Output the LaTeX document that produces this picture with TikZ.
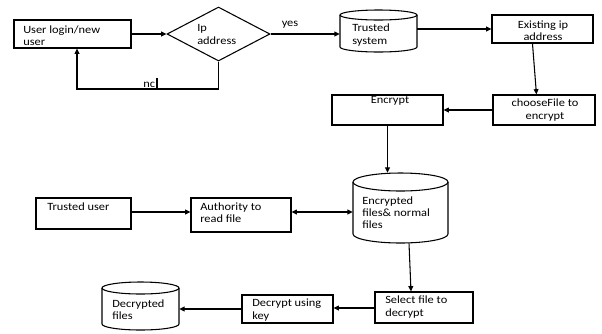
\documentclass[tikz,border=0pt]{standalone}
\usepackage{fontspec}
\setmainfont{Carlito}[FakeStretch=1.12]
\usetikzlibrary{shapes.geometric,arrows.meta,calc}
\tikzset{
  box/.style={draw, line width=0.8pt, inner sep=0pt},
  hold/.style={inner sep=0pt},
  txt/.style={inner sep=0pt, align=left, font=\fontsize{8.3}{9.2}\selectfont},
  ctxt/.style={inner sep=0pt, align=center, font=\fontsize{8.3}{9.2}\selectfont},
  arr/.style={line width=0.8pt, -{Triangle[length=4pt,width=3.6pt]}},
  darr/.style={line width=0.8pt, {Triangle[length=4pt,width=3.6pt]}-{Triangle[length=4pt,width=3.6pt]}},
  cylline/.style={line width=0.8pt}
}
\newcommand\drawcyl[5]{%
  \pgfmathsetmacro\cylR{(#3-#1)/2*0.75}%
  \pgfmathsetmacro\cylr{#5*0.75}%
  \draw[cylline] (#1,#2+#5) -- (#1,#4-#5) arc[start angle=180,end angle=360,x radius=\cylR pt,y radius=\cylr pt] -- (#3,#2+#5);
  \draw[cylline] ({(#1+#3)/2},#2+#5) ellipse[x radius=\cylR pt, y radius=\cylr pt];
}
\begin{document}
\begin{tikzpicture}[x=0.75pt,y=-0.75pt]
\useasboundingbox (0,0) rectangle (602,333);
% boxes
\node[box, minimum width=87.75pt, minimum height=21pt] (u) at (72.5,34) {};
\node[box, shape=diamond, minimum width=77.25pt, minimum height=40.5pt] (ip) at (218.5,34) {};
\node[hold, minimum width=57.75pt, minimum height=31.5pt] (ts) at (378.5,31) {};
\drawcyl{340}{10}{417}{52}{5}
\node[box, minimum width=75.75pt, minimum height=21pt] (ex) at (542.5,29) {};
\node[box, minimum width=76.5pt, minimum height=22.5pt] (ch) at (544,110) {};
\node[box, minimum width=83.25pt, minimum height=22.5pt] (enc) at (387.5,110) {};
\node[hold, minimum width=71.25pt, minimum height=52.5pt] (ef) at (400.5,208) {};
\drawcyl{353}{173}{448}{243}{9}
\node[box, minimum width=71.25pt, minimum height=23.25pt] (tu) at (83.5,213.5) {};
\node[box, minimum width=75pt, minimum height=25.5pt] (au) at (241,215) {};
\node[box, minimum width=73.5pt, minimum height=23.25pt] (se) at (424,307.5) {};
\node[box, minimum width=68.25pt, minimum height=21pt] (dk) at (287.5,309) {};
\node[hold, minimum width=57.75pt, minimum height=36pt] (dc) at (140.5,306) {};
\drawcyl{102}{282}{179}{330}{6}
% texts
\node[txt, anchor=west] (ut) at (23,35.5) {User login/new\\user};
\node[txt, anchor=west] (ipt) at (197,34.5) {Ip\\address};
\node[txt, anchor=west] (tst) at (352,35) {Trusted\\system};
\node[ctxt] (ext) at (543,31) {Existing ip\\address};
\node[ctxt] (cht) at (545,110) {chooseFile to\\encrypt};
\node[ctxt] (enct) at (390,100.5) {Encrypt};
\node[txt, anchor=west] (eft) at (362,212.5) {Encrypted\\files\& normal\\files};
\node[txt, anchor=west] (tut) at (47,206.5) {Trusted user};
\node[txt, anchor=west] (aut) at (200,212.5) {Authority to\\read file};
\node[txt, anchor=west] (set) at (385,307) {Select file to\\decrypt};
\node[txt, anchor=west] (dkt) at (252,310) {Decrypt using\\key};
\node[txt, anchor=west] (dct) at (112,310) {Decrypted\\files};
\node[txt] (yes) at (290,24.5) {yes};
\node[txt, anchor=west] (no) at (143,83.5) {nc\hspace{0.6pt}\rule[-1.5pt]{1.3pt}{9pt}};
% connectors
\draw[arr] (u.east) -- (ip.west);
\coordinate (l1) at (218.5,89);
\coordinate (l2) at (77,89);
\draw[arr] (ip.south) -- (l1) -- (l2) -- (l2 |- u.south);
\draw[arr] (ip.east) -- (ip.east -| ts.west);
\draw[arr] (ts.east |- ex.west) -- (ex.west);
\draw[arr] ($(ex.south west)+(41,0)$) -- ($(ch.north west)+(44,0)$);
\draw[arr] (ch.west) -- (ch.west -| enc.east);
\draw[arr] (enc.south) -- (enc.south |- ef.north);
\draw[arr] (tu.east |- 0,212) -- (au.west |- 0,212);
\draw[darr] (au.east |- 0,212) -- (ef.west |- 0,212);
\draw[arr] ($(ef.south)+(8.5,0)$) -- ($(se.north)+(-13,0)$);
\draw[arr] (se.west |- 0,308) -- (dk.east |- 0,308);
\draw[arr] (dk.west) -- (dk.west -| dc.east);
\end{tikzpicture}
\end{document}
